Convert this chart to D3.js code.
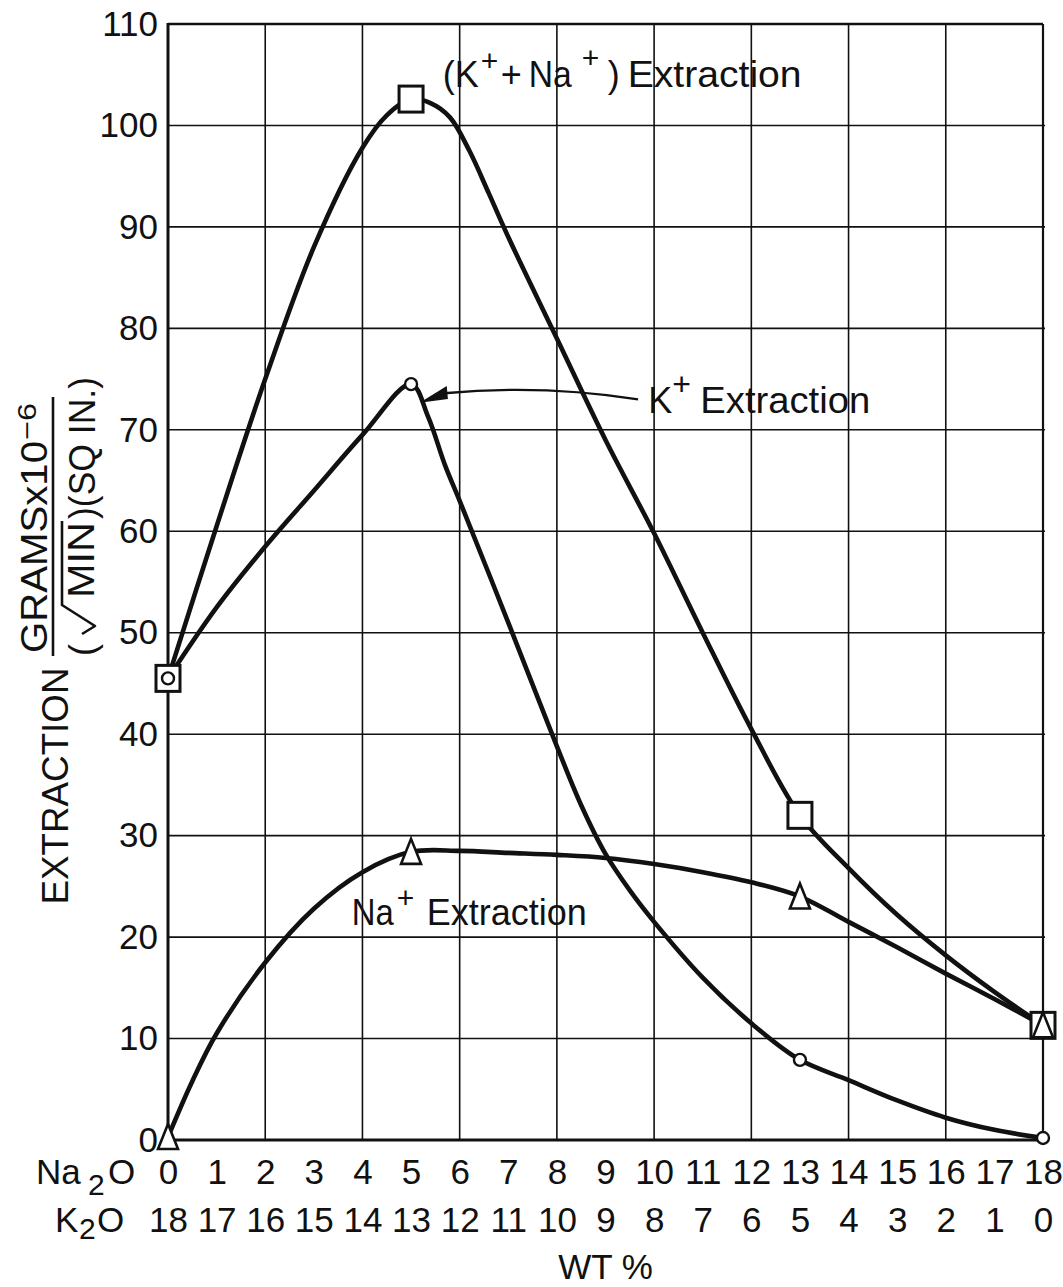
<!DOCTYPE html>
<html>
<head>
<meta charset="utf-8">
<script src="https://cdn.jsdelivr.net/npm/d3@7"></script>
<style>
  body { margin: 0; background: #fff; }
  svg { display: block; }
  text { font-family: "Liberation Sans", Arial, sans-serif; fill: #111; }
</style>
</head>
<body>
<svg id="chart" width="1063" height="1287"></svg>
<script>
// Na2O weight % on the lower axis, K2O is the complement (18 - Na2O)
const na2oTicks = [0, 1, 2, 3, 4, 5, 6, 7, 8, 9, 10, 11, 12, 13, 14, 15, 16, 17, 18];
const k2oLabels = ["18", "17", "16", "15", "14", "13", "12", "11", "10", "9", "8", "7", "6", "5", "4", "3", "2", "1", "0"];
const yTicks = [0, 10, 20, 30, 40, 50, 60, 70, 80, 90, 100, 110];
const gridX = [0, 2, 4, 6, 8, 10, 12, 14, 16, 18];

// measured glasses (Na2O wt %)
const sampleWt = [0, 5, 13, 18];
const totalExtraction = [45.5, 102.6, 32, 11.3];   // K+ + Na+
const kExtraction = [45.5, 74.5, 7.9, 0.2];        // K+
const naExtraction = [0.3, 28.4, 24, 11.3];        // Na+

// hand-faired curves through the measurements
const totalCurve = [[0, 45.5], [1, 60.5], [2, 75], [3, 88], [4, 97.8], [4.5, 101], [5, 102.6], [5.4, 102.2], [5.8, 100.8],
  [6.2, 97.5], [6.6, 93.3], [7, 89], [8, 79], [9, 69], [10, 59.8], [11, 50], [12, 40.5], [13, 32], [14, 26.8], [15, 22.2],
  [16, 18.2], [17, 14.6], [18, 11.3]];
const kCurve = [[0, 45.5], [1, 52.5], [2, 58.5], [3, 64], [4, 69.5], [5, 74.5], [5.35, 71.3], [5.7, 66.5], [6, 63],
  [7, 51], [8, 38.8], [8.5, 33], [9, 28.2], [9.5, 24.6], [10, 21.5], [11, 16], [12, 11.5], [13, 7.9], [14, 5.9], [15, 3.9], [16, 2.2], [17, 1], [18, 0.2]];
const naCurve = [[0, 0.3], [0.5, 5.8], [1, 10.5], [2, 17.5], [3, 22.8], [4, 26.4], [5, 28.4], [6, 28.5], [7, 28.3],
  [8, 28.1], [9, 27.8], [10, 27.2], [11, 26.4], [12, 25.4], [13, 24], [14, 21.5], [15, 19], [16, 16.4], [17, 13.9], [18, 11.3]];

const svg = d3.select("#chart");
const x = d3.scaleLinear().domain([0, 18]).range([168, 1043]);
const y = d3.scaleLinear().domain([0, 110]).range([1140, 24]);
const ink = "#111";

// grid
const grid = svg.append("g").attr("stroke", ink).attr("stroke-width", 1.6);
grid.selectAll("line.v").data(gridX.slice(1, -1)).join("line")
  .attr("x1", d => x(d)).attr("x2", d => x(d)).attr("y1", y(110)).attr("y2", y(0));
grid.selectAll("line.h").data(yTicks.slice(1, -1)).join("line")
  .attr("x1", x(0)).attr("x2", x(18) + 2).attr("y1", d => y(d)).attr("y2", d => y(d));

// frame
svg.append("line").attr("x1", x(0)).attr("x2", x(18)).attr("y1", y(110)).attr("y2", y(110)).attr("stroke", ink).attr("stroke-width", 2.6);
svg.append("line").attr("x1", x(18)).attr("x2", x(18)).attr("y1", y(110)).attr("y2", y(0)).attr("stroke", ink).attr("stroke-width", 2.2);
svg.append("line").attr("x1", x(0)).attr("x2", x(0)).attr("y1", y(110) - 1).attr("y2", y(0) + 1).attr("stroke", ink).attr("stroke-width", 3);
svg.append("line").attr("x1", x(0)).attr("x2", x(18)).attr("y1", y(0)).attr("y2", y(0)).attr("stroke", ink).attr("stroke-width", 3);

// y axis labels
const yAxis = d3.axisLeft(y).tickValues(yTicks).tickSize(0).tickPadding(10).tickFormat(d3.format("d"));
const yg = svg.append("g").attr("transform", `translate(${x(0)},0)`).call(yAxis);
yg.select(".domain").remove();
yg.selectAll("text").attr("font-size", 35).attr("font-family", "Liberation Sans, Arial, sans-serif").attr("fill", ink);

// x axis labels: two rows
const xRow1 = d3.axisBottom(x).tickValues(na2oTicks).tickSize(0).tickPadding(0).tickFormat(d3.format("d"));
const xg1 = svg.append("g").attr("transform", `translate(0,${y(0)})`).call(xRow1);
xg1.select(".domain").remove();
xg1.selectAll("text").attr("font-size", 35).attr("dy", null).attr("y", 44).attr("fill", ink)
  .attr("font-family", "Liberation Sans, Arial, sans-serif");

const xRow2 = d3.axisBottom(x).tickValues(na2oTicks).tickSize(0).tickPadding(0).tickFormat((d, i) => k2oLabels[i]);
const xg2 = svg.append("g").attr("transform", `translate(0,${y(0)})`).call(xRow2);
xg2.select(".domain").remove();
xg2.selectAll("text").attr("font-size", 35).attr("dy", null).attr("y", 92).attr("fill", ink)
  .attr("font-family", "Liberation Sans, Arial, sans-serif");

// row captions
function formula(x0, base, parts) {
  const t = svg.append("text").attr("font-size", 35);
  parts.forEach(p => t.append("tspan").attr("x", x0 + p.dx).attr("y", base + (p.dy || 0))
    .attr("font-size", p.size || 35).text(p.s));
}
formula(36, y(0) + 44, [{ s: "Na", dx: 0 }, { s: "2", dx: 52, dy: 11, size: 30 }, { s: "O", dx: 72 }]);
formula(55, y(0) + 92, [{ s: "K", dx: 0 }, { s: "2", dx: 24, dy: 7, size: 30 }, { s: "O", dx: 42 }]);

svg.append("text").attr("x", x(9)).attr("y", y(0) + 139).attr("text-anchor", "middle")
  .attr("font-size", 35).text("WT %");

// y axis title (rotated)
const yt = svg.append("g").attr("transform", "rotate(-90)");
yt.append("text").attr("x", -786).attr("y", 68).attr("text-anchor", "middle")
  .attr("font-size", 37).attr("textLength", 237).attr("lengthAdjust", "spacingAndGlyphs").text("EXTRACTION");
yt.append("text").attr("x", -653).attr("y", 47).attr("font-size", 36)
  .attr("textLength", 212).attr("lengthAdjust", "spacingAndGlyphs").text("GRAMSx10");
yt.append("text").attr("x", -440).attr("y", 36).attr("font-size", 26)
  .attr("textLength", 37).attr("lengthAdjust", "spacingAndGlyphs").text("\u22126");
yt.append("line").attr("x1", -656).attr("x2", -397).attr("y1", 53).attr("y2", 53)
  .attr("stroke", ink).attr("stroke-width", 2.6);
yt.append("text").attr("x", -656).attr("y", 95).attr("font-size", 36).text("(");
yt.append("path").attr("d", "M-634,82 L-626,95 L-605,62 L-521,62")
  .attr("fill", "none").attr("stroke", ink).attr("stroke-width", 2.6).attr("stroke-linejoin", "round");
yt.append("text").attr("x", -598).attr("y", 94).attr("font-size", 36)
  .attr("textLength", 76).attr("lengthAdjust", "spacingAndGlyphs").text("MIN");
yt.append("text").attr("x", -519).attr("y", 95).attr("font-size", 36)
  .attr("textLength", 142).attr("lengthAdjust", "spacingAndGlyphs").text(")(SQ IN.)");

// curves
const line = d3.line().x(d => x(d[0])).y(d => y(d[1])).curve(d3.curveCatmullRom.alpha(0.5));
const curves = svg.append("g").attr("fill", "none").attr("stroke", ink).attr("stroke-width", 4.6)
  .attr("stroke-linecap", "round").attr("stroke-linejoin", "round");
[totalCurve, kCurve, naCurve].forEach(c => curves.append("path").attr("d", line(c)));

// markers
const marks = svg.append("g").attr("stroke", ink).attr("fill", "#fff");
marks.selectAll("rect").data(sampleWt.map((w, i) => [w, totalExtraction[i]])).join("rect")
  .attr("x", d => x(d[0]) - 12).attr("y", d => y(d[1]) - 13).attr("width", 24).attr("height", 26)
  .attr("stroke-width", 3);
marks.selectAll("path.tri").data(sampleWt.map((w, i) => [w, naExtraction[i]])).join("path")
  .attr("class", "tri")
  .attr("d", d => { const cx = x(d[0]), cy = y(d[1]); return `M${cx},${cy - 13} L${cx + 10},${cy + 12} L${cx - 10},${cy + 12} Z`; })
  .attr("stroke-width", 2.6).attr("stroke-linejoin", "miter");
marks.selectAll("circle").data(sampleWt.map((w, i) => [w, kExtraction[i]])).join("circle")
  .attr("cx", d => x(d[0])).attr("cy", d => y(d[1])).attr("r", 6).attr("stroke-width", 2.4);

// labels
function label(x0, base, parts) {
  const t = svg.append("text").attr("font-size", 36);
  parts.forEach(p => {
    const s = t.append("tspan").attr("x", x0 + p.dx).attr("y", base + (p.dy || 0))
      .attr("font-size", p.size || 36).text(p.s);
    if (p.len) s.attr("textLength", p.len).attr("lengthAdjust", "spacingAndGlyphs");
  });
}
label(x(5.65), y(103.8), [
  { s: "(", dx: 0 }, { s: "K", dx: 12 }, { s: "+", dx: 38, dy: -16, size: 30 }, { s: "+", dx: 58 },
  { s: "Na", dx: 86, len: 43 }, { s: "+", dx: 139, dy: -19, size: 30 }, { s: ")", dx: 165 },
  { s: "Extraction", dx: 185, len: 174 }]);
label(x(9.88), y(71.7), [
  { s: "K", dx: 0 }, { s: "+", dx: 24, dy: -18, size: 32 }, { s: "Extraction", dx: 52, len: 170 }]);
label(x(3.78), y(21.2), [
  { s: "Na", dx: 0, len: 42 }, { s: "+", dx: 45, dy: -17, size: 30 }, { s: "Extraction", dx: 75, len: 160 }]);

// pointer from the K+ label to its curve
const a0 = [x(9.67), y(73)], a1 = [x(5.68), y(73.6)], tip = [x(5.25), y(72.8)];
svg.append("path")
  .attr("d", `M${a0[0]},${a0[1]} Q${(a0[0] + a1[0]) / 2},${y(74.5)} ${a1[0]},${a1[1]}`)
  .attr("fill", "none").attr("stroke", ink).attr("stroke-width", 2.4);
svg.append("path")
  .attr("d", `M${tip[0]},${tip[1]} L${a1[0] + 2},${a1[1] - 6} L${a1[0] + 3},${a1[1] + 5} Z`)
  .attr("fill", ink).attr("stroke", ink).attr("stroke-width", 1.5).attr("stroke-linejoin", "miter");
</script>
</body>
</html>
